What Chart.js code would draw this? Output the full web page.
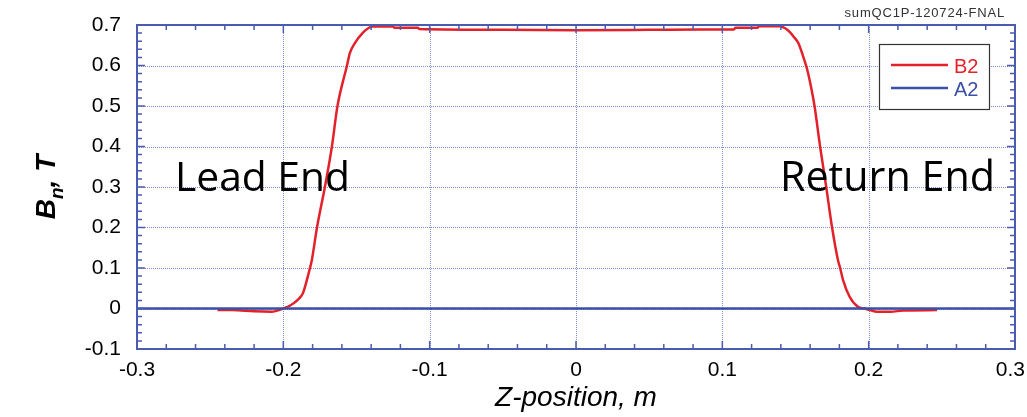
<!DOCTYPE html>
<html lang="en">
<head>
    <meta charset="UTF-8">
    <title>sumQC1P-120724-FNAL</title>
    <script src="https://cdn.jsdelivr.net/npm/chart.js"></script>
    <style>
        body {
            margin: 0;
            background: #fff;
        }
        #chart {
            display: block;
        }
    </style>
</head>
<body>
    <canvas id="chart" width="1027" height="417"></canvas>

    <script>
        // Z-position (m) and field harmonic values (T)
        const zB2 = [-0.245, -0.235, -0.22, -0.208, -0.2, -0.195, -0.19, -0.1866, -0.1825, -0.1805,
                     -0.177, -0.1716, -0.1668, -0.163, -0.1565, -0.1545, -0.151, -0.1456, -0.142,
                     -0.139, -0.125, -0.124, -0.108, -0.107, -0.05, 0, 0.05, 0.085, 0.108, 0.109,
                     0.124, 0.125, 0.139, 0.143, 0.146, 0.149, 0.152, 0.155, 0.158, 0.161, 0.163,
                     0.1668, 0.171, 0.175, 0.179, 0.1805, 0.1825, 0.187, 0.1927, 0.197, 0.201,
                     0.2057, 0.215, 0.2235, 0.2467];
        const valB2 = [-0.004, -0.004, -0.007, -0.008, 0, 0.008, 0.022, 0.038, 0.09, 0.12,
                       0.2, 0.3, 0.4, 0.5, 0.6, 0.631, 0.656, 0.681, 0.692,
                       0.696, 0.696, 0.693, 0.693, 0.69, 0.688, 0.687, 0.688, 0.689, 0.689, 0.693,
                       0.693, 0.697, 0.697, 0.692, 0.683, 0.67, 0.655, 0.625, 0.59, 0.54, 0.5,
                       0.4, 0.3, 0.2, 0.12, 0.1, 0.07, 0.029, 0.004, 0, -0.004,
                       -0.008, -0.008, -0.005, -0.004];
        const zA2 = [-0.3, 0.3];
        const valA2 = [0, 0];

        const xTicks = [-0.3, -0.2, -0.1, 0, 0.1, 0.2, 0.3];
        const yTicks = [-0.1, 0, 0.1, 0.2, 0.3, 0.4, 0.5, 0.6, 0.7];

        const frameColor = '#4a5cb0';
        const gridColor = 'rgba(85, 105, 195, 0.75)';
        const red = '#e3212b';
        const blue = '#3b50a6';
        const tickFont = '21px "Liberation Sans"';

        function fmt(v) {
            if (Math.abs(v) < 1e-9) return '0';
            return v.toFixed(1);
        }

        function toPoints(xs, ys) {
            return xs.map((x, i) => ({ x: x, y: ys[i] }));
        }

        // fit a font size so that text spans the given width
        function fitFont(ctx, text, width, family) {
            ctx.font = '40px ' + family;
            return 40 * width / ctx.measureText(text).width;
        }

        const decorations = {
            id: 'decorations',
            beforeDatasetsDraw(chart) {
                // dotted grid at major ticks
                const ctx = chart.ctx;
                const xs = chart.scales.x;
                const ys = chart.scales.y;
                const a = chart.chartArea;
                ctx.save();
                ctx.strokeStyle = gridColor;
                ctx.lineWidth = 1;
                ctx.setLineDash([1, 1]);
                xTicks.forEach(v => {
                    const px = Math.round(xs.getPixelForValue(v)) + 0.5;
                    ctx.beginPath();
                    ctx.moveTo(px, a.top);
                    ctx.lineTo(px, a.bottom);
                    ctx.stroke();
                });
                yTicks.forEach(v => {
                    const py = Math.round(ys.getPixelForValue(v)) + 0.5;
                    ctx.beginPath();
                    ctx.moveTo(a.left, py);
                    ctx.lineTo(a.right, py);
                    ctx.stroke();
                });
                ctx.restore();
            },
            afterDatasetsDraw(chart) {
                const ctx = chart.ctx;
                const xs = chart.scales.x;
                const ys = chart.scales.y;
                const a = chart.chartArea;

                // frame with inward ticks on all sides
                ctx.save();
                ctx.strokeStyle = frameColor;
                ctx.lineWidth = 1.5;
                for (let i = 0; i <= 30; i++) {
                    const px = xs.getPixelForValue(-0.3 + i * 0.02);
                    const len = i % 5 === 0 ? 8 : 5;
                    ctx.beginPath();
                    ctx.moveTo(px, a.bottom);
                    ctx.lineTo(px, a.bottom - len);
                    ctx.moveTo(px, a.top);
                    ctx.lineTo(px, a.top + len);
                    ctx.stroke();
                }
                for (let i = 0; i <= 40; i++) {
                    const py = ys.getPixelForValue(-0.1 + i * 0.02);
                    const len = i % 5 === 0 ? 8 : 5;
                    ctx.beginPath();
                    ctx.moveTo(a.left, py);
                    ctx.lineTo(a.left + len, py);
                    ctx.moveTo(a.right, py);
                    ctx.lineTo(a.right - len, py);
                    ctx.stroke();
                }
                ctx.lineWidth = 2;
                ctx.strokeRect(a.left, a.top, a.right - a.left, a.bottom - a.top);

                // x tick labels, kept inside the canvas at the ends
                ctx.fillStyle = '#000';
                ctx.font = tickFont;
                ctx.textAlign = 'center';
                ctx.textBaseline = 'middle';
                xTicks.forEach(v => {
                    const label = fmt(v);
                    const w = ctx.measureText(label).width;
                    let cx = xs.getPixelForValue(v);
                    cx = Math.min(cx, chart.width - 2 - w / 2);
                    ctx.fillText(label, cx, a.bottom + 21);
                });

                // region labels
                ctx.textBaseline = 'alphabetic';
                ctx.textAlign = 'left';
                let s = fitFont(ctx, 'Lead End', 175, '"Open Sans"');
                ctx.font = s + 'px "Open Sans"';
                ctx.fillText('Lead End', 175, 191);
                s = fitFont(ctx, 'Return End', 215, '"Open Sans"');
                ctx.font = s + 'px "Open Sans"';
                ctx.fillText('Return End', 780, 191);

                // legend
                ctx.fillStyle = '#fff';
                ctx.fillRect(879, 44, 111, 66);
                ctx.strokeStyle = '#333';
                ctx.lineWidth = 1.2;
                ctx.strokeRect(879.5, 44.5, 110, 65);
                ctx.lineWidth = 2.5;
                ctx.strokeStyle = red;
                ctx.beginPath();
                ctx.moveTo(891, 65);
                ctx.lineTo(948, 65);
                ctx.stroke();
                ctx.strokeStyle = blue;
                ctx.beginPath();
                ctx.moveTo(891, 88);
                ctx.lineTo(948, 88);
                ctx.stroke();
                ctx.font = '20px "Liberation Sans"';
                ctx.fillStyle = red;
                ctx.fillText('B2', 954, 73);
                ctx.fillStyle = blue;
                ctx.fillText('A2', 954, 96);

                // run tag
                ctx.fillStyle = '#333';
                ctx.textAlign = 'right';
                ctx.font = '13px "Liberation Sans"';
                ctx.letterSpacing = '0.8px';
                ctx.fillText('sumQC1P-120724-FNAL', 1005, 17);
                ctx.letterSpacing = '0px';

                // y axis title with subscript
                ctx.translate(55, 187);
                ctx.rotate(-Math.PI / 2);
                ctx.fillStyle = '#000';
                ctx.textAlign = 'left';
                const big = 'italic bold 28px "Liberation Sans"';
                const small = 'italic bold 19px "Liberation Sans"';
                ctx.font = big;
                const wB = ctx.measureText('B').width;
                const wRest = ctx.measureText(', T').width;
                ctx.font = small;
                const wn = ctx.measureText('n').width;
                let x0 = -(wB + wn + wRest) / 2;
                ctx.font = big;
                ctx.fillText('B', x0, 0);
                ctx.font = small;
                ctx.fillText('n', x0 + wB, 8);
                ctx.font = big;
                ctx.fillText(', T', x0 + wB + wn, 0);
                ctx.restore();
            }
        };

        new Chart(document.getElementById('chart'), {
            type: 'line',
            data: {
                datasets: [
                    {
                        label: 'A2',
                        data: toPoints(zA2, valA2),
                        borderColor: blue,
                        borderWidth: 2.5,
                        pointRadius: 0
                    },
                    {
                        label: 'B2',
                        data: toPoints(zB2, valB2),
                        borderColor: red,
                        borderWidth: 2.5,
                        pointRadius: 0,
                        cubicInterpolationMode: 'monotone'
                    }
                ]
            },
            options: {
                responsive: false,
                animation: false,
                devicePixelRatio: 1,
                layout: {
                    autoPadding: false,
                    padding: { top: 25, right: 12, left: 0, bottom: 0 }
                },
                plugins: {
                    legend: { display: false },
                    tooltip: { enabled: false }
                },
                scales: {
                    x: {
                        type: 'linear',
                        min: -0.3,
                        max: 0.3,
                        afterFit: scale => {
                            scale.height = 68;
                            scale.paddingLeft = 0;
                            scale.paddingRight = 0;
                        },
                        afterBuildTicks: scale => {
                            scale.ticks = xTicks.map(v => ({ value: v }));
                        },
                        ticks: { display: false },
                        grid: { display: false, drawTicks: false },
                        border: { display: false },
                        title: {
                            display: true,
                            text: 'Z-position, m',
                            color: '#000',
                            font: { family: '"Liberation Sans"', size: 28, style: 'italic' },
                            padding: { top: 0, bottom: 2 }
                        }
                    },
                    y: {
                        type: 'linear',
                        min: -0.1,
                        max: 0.7,
                        afterFit: scale => {
                            scale.width = 137;
                            scale.paddingTop = 0;
                            scale.paddingBottom = 0;
                        },
                        afterBuildTicks: scale => {
                            scale.ticks = yTicks.map(v => ({ value: v }));
                        },
                        ticks: {
                            callback: v => fmt(v),
                            color: '#000',
                            font: { family: '"Liberation Sans"', size: 21 },
                            padding: 16
                        },
                        grid: { display: false, drawTicks: false },
                        border: { display: false }
                    }
                }
            },
            plugins: [decorations]
        });
    </script>
</body>
</html>
